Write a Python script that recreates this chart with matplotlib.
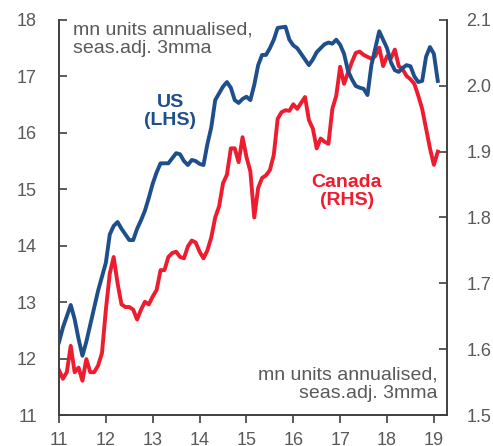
import numpy as np
import matplotlib.pyplot as plt

plt.rcParams['font.family'] = ['Liberation Sans', 'DejaVu Sans']

# monthly, Jan 2011 - Feb 2019
us_sales = [12.29, 12.55, 12.75, 12.95, 12.70, 12.35, 12.05, 12.30, 12.60, 12.90,
            13.20, 13.45, 13.70, 14.20, 14.35, 14.42, 14.30, 14.20, 14.10, 14.10,
            14.30, 14.45, 14.62, 14.85, 15.10, 15.30, 15.46, 15.46, 15.46, 15.55,
            15.64, 15.62, 15.50, 15.43, 15.52, 15.50, 15.45, 15.43, 15.80, 16.10,
            16.58, 16.70, 16.82, 16.90, 16.80, 16.58, 16.53, 16.60, 16.64, 16.58,
            16.85, 17.20, 17.38, 17.38, 17.50, 17.65, 17.86, 17.87, 17.88, 17.65,
            17.55, 17.50, 17.40, 17.30, 17.20, 17.30, 17.43, 17.50, 17.57, 17.60,
            17.58, 17.65, 17.56, 17.40, 17.10, 16.95, 16.83, 16.80, 16.78, 16.67,
            17.20, 17.50, 17.80, 17.65, 17.50, 17.25, 17.11, 17.08, 17.15, 17.20,
            17.18, 17.00, 16.90, 16.92, 17.35, 17.52, 17.40, 16.92]

canada_sales = [1.568, 1.555, 1.565, 1.605, 1.565, 1.572, 1.552, 1.585, 1.565, 1.565,
                1.575, 1.594, 1.660, 1.715, 1.740, 1.700, 1.668, 1.664, 1.664, 1.660,
                1.645, 1.660, 1.672, 1.668, 1.680, 1.690, 1.720, 1.720, 1.740, 1.746,
                1.748, 1.740, 1.738, 1.756, 1.765, 1.762, 1.748, 1.738, 1.750, 1.770,
                1.800, 1.817, 1.852, 1.865, 1.905, 1.905, 1.884, 1.922, 1.892, 1.870,
                1.800, 1.845, 1.860, 1.864, 1.872, 1.895, 1.950, 1.960, 1.963, 1.962,
                1.972, 1.965, 1.974, 1.983, 1.948, 1.935, 1.905, 1.920, 1.915, 1.912,
                1.965, 1.985, 2.029, 2.003, 2.020, 2.036, 2.050, 2.052, 2.047, 2.044,
                2.041, 2.045, 2.058, 2.030, 2.045, 2.042, 2.055, 2.030, 2.025, 2.015,
                2.010, 2.003, 1.985, 1.965, 1.935, 1.905, 1.880, 1.900]

year_ticks = [11, 12, 13, 14, 15, 16, 17, 18, 19]
left_ticks = [11, 12, 13, 14, 15, 16, 17, 18]
right_ticks = [1.5, 1.6, 1.7, 1.8, 1.9, 2.0, 2.1]

blue = '#1F4E8C'
red = '#ED1C2E'
grey = '#404040'
txt = '#595959'

x = 11 + np.arange(len(us_sales)) / 12

fig = plt.figure(figsize=(4.93, 4.46), dpi=100)
ax = fig.add_axes([0.1197, 0.0695, 0.787, 0.8857])
ax2 = ax.twinx()

ax.plot(x, us_sales, color=blue, lw=2.8, solid_joinstyle='round', zorder=3)
ax2.plot(x, canada_sales, color=red, lw=2.8, solid_joinstyle='round')
ax.set_zorder(ax2.get_zorder() + 1)
ax.patch.set_visible(False)

ax.set_xlim(11, 19.28)
ax.set_ylim(11, 18)
ax2.set_ylim(1.5, 2.1)
ax.set_xticks(year_ticks)
ax.set_xticklabels([str(t) for t in year_ticks])
ax.set_yticks(left_ticks)
ax2.set_yticks(right_ticks)
ax2.set_yticklabels(['%.1f' % t for t in right_ticks])

for a in (ax, ax2):
    a.spines['top'].set_visible(False)
    for s in ('left', 'right', 'bottom'):
        a.spines[s].set_color(grey)
        a.spines[s].set_linewidth(1.2)
ax.tick_params(axis='y', direction='in', length=6, width=1.2, color=grey,
               labelsize=13, labelcolor=txt, pad=16)
ax2.tick_params(axis='y', direction='in', length=6, width=1.2, color=grey,
                labelsize=13, labelcolor=txt, pad=14)
ax.tick_params(axis='x', direction='out', length=6, width=1.2, color=grey,
               labelsize=13, labelcolor=txt, pad=6)

note = 'mn units annualised,\nseas.adj. 3mma'
ax.text(0.036, 0.995, note, transform=ax.transAxes, fontsize=14, color=txt,
        va='top', ha='left', linespacing=1.08)
ax.text(0.976, 0.033, note, transform=ax.transAxes, fontsize=14, color=txt,
        ha='right', va='bottom', linespacing=1.08)

ax.text(13.37, 16.38, 'US\n(LHS)', fontsize=14, fontweight='bold', color=blue,
        ha='center', va='center', linespacing=1.12)
ax.text(17.14, 14.96, 'Canada\n(RHS)', fontsize=14, fontweight='bold', color=red,
        ha='center', va='center', linespacing=1.12)

# title sits mostly above the canvas, as in the cropped original
fig.text(0.5, 1 + 0.5 / 446, 'Canadian and US vehicle sales', fontsize=14,
         color=grey, ha='center', va='baseline')

fig.savefig('out.png', dpi=100)
